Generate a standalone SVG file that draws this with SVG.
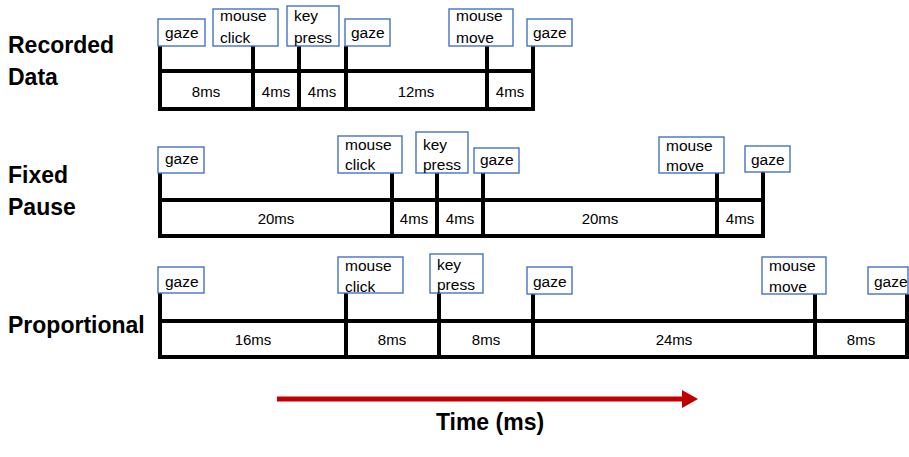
<svg xmlns="http://www.w3.org/2000/svg" width="909" height="457" viewBox="0 0 909 457">
<style>
.ev{fill:#fff;stroke:#4472C4;stroke-width:1.4}
.t{font-family:"Liberation Sans",Arial,sans-serif;font-size:15.5px;fill:#000}
.d{font-family:"Liberation Sans",Arial,sans-serif;font-size:15px;fill:#000;text-anchor:middle}
.h{font-family:"Liberation Sans",Arial,sans-serif;font-size:23px;font-weight:bold;fill:#000}
.c{text-anchor:middle}
.ln{stroke:#000;stroke-width:4;fill:none}
</style>
<defs>
<marker id="ah" markerWidth="16" markerHeight="18" refX="1" refY="9" orient="auto" markerUnits="userSpaceOnUse">
<path d="M0,0 L16,9 L0,18 Z" fill="#C00000"/>
</marker>
</defs>
<rect width="909" height="457" fill="#fff"/>
<g id="labels">
<text class="h" x="8" y="53">Recorded</text>
<text class="h" x="8" y="85">Data</text>
<text class="h" x="8" y="183">Fixed</text>
<text class="h" x="8" y="215">Pause</text>
<text class="h" x="8" y="333">Proportional</text>
<text class="h c" x="490" y="430">Time (ms)</text>
</g>
<g id="connectors">
<rect class="ln" x="160" y="71" width="373" height="38"/>
<path class="ln" d="M160,46V109 M253,46V109 M299,46V109 M346,46V109 M487,46V109 M533,46V109"/>
<rect class="ln" x="160" y="200" width="603" height="36"/>
<path class="ln" d="M160,173V236 M392,173V236 M437,173V236 M483,173V236 M717,173V236 M763,172V236"/>
<rect class="ln" x="160" y="321" width="748" height="36"/>
<path class="ln" d="M160,293V357 M346,293V357 M439,293V357 M533,294V357 M815,294V357 M907,294V357"/>
<line x1="277" y1="399" x2="683" y2="399" stroke="#C00000" stroke-width="5" marker-end="url(#ah)"/>
</g>
<g id="durations">
<text class="d" x="206" y="97">8ms</text>
<text class="d" x="276" y="97">4ms</text>
<text class="d" x="322" y="97">4ms</text>
<text class="d" x="416" y="97">12ms</text>
<text class="d" x="510" y="97">4ms</text>
<text class="d" x="276" y="224">20ms</text>
<text class="d" x="414" y="224">4ms</text>
<text class="d" x="460" y="224">4ms</text>
<text class="d" x="600" y="224">20ms</text>
<text class="d" x="740" y="224">4ms</text>
<text class="d" x="253" y="345">16ms</text>
<text class="d" x="392" y="345">8ms</text>
<text class="d" x="486" y="345">8ms</text>
<text class="d" x="674" y="345">24ms</text>
<text class="d" x="861" y="345">8ms</text>
</g>
<g id="r1-gaze1"><rect class="ev" x="158" y="19" width="47" height="27"/><text class="t" x="165" y="38">gaze</text></g>
<g id="r1-click"><rect class="ev" x="213" y="9" width="65" height="37"/><text class="t" x="220" y="21">mouse</text><text class="t" x="220" y="43">click</text></g>
<g id="r1-key"><rect class="ev" x="287" y="6" width="52" height="40"/><text class="t" x="294" y="21">key</text><text class="t" x="294" y="43">press</text></g>
<g id="r1-gaze2"><rect class="ev" x="345" y="19" width="45" height="27"/><text class="t" x="351" y="38">gaze</text></g>
<g id="r1-move"><rect class="ev" x="449" y="9" width="64" height="37"/><text class="t" x="456" y="21">mouse</text><text class="t" x="456" y="43">move</text></g>
<g id="r1-gaze3"><rect class="ev" x="527" y="19" width="45" height="27"/><text class="t" x="533" y="38">gaze</text></g>
<g id="r2-gaze1"><rect class="ev" x="158" y="147" width="46" height="26"/><text class="t" x="165" y="164">gaze</text></g>
<g id="r2-click"><rect class="ev" x="338" y="136" width="64" height="37"/><text class="t" x="345" y="150">mouse</text><text class="t" x="345" y="170">click</text></g>
<g id="r2-key"><rect class="ev" x="416" y="132" width="52" height="41"/><text class="t" x="423" y="150">key</text><text class="t" x="423" y="170">press</text></g>
<g id="r2-gaze2"><rect class="ev" x="474" y="148" width="45" height="25"/><text class="t" x="480" y="165">gaze</text></g>
<g id="r2-move"><rect class="ev" x="659" y="137" width="65" height="36"/><text class="t" x="666" y="151">mouse</text><text class="t" x="666" y="171">move</text></g>
<g id="r2-gaze3"><rect class="ev" x="745" y="146" width="45" height="26"/><text class="t" x="751" y="165">gaze</text></g>
<g id="r3-gaze1"><rect class="ev" x="158" y="267" width="46" height="26"/><text class="t" x="165" y="287">gaze</text></g>
<g id="r3-click"><rect class="ev" x="338" y="257" width="65" height="36"/><text class="t" x="345" y="271">mouse</text><text class="t" x="345" y="292">click</text></g>
<g id="r3-key"><rect class="ev" x="430" y="254" width="53" height="39"/><text class="t" x="437" y="270">key</text><text class="t" x="437" y="290">press</text></g>
<g id="r3-gaze2"><rect class="ev" x="527" y="267" width="45" height="27"/><text class="t" x="533" y="287">gaze</text></g>
<g id="r3-move"><rect class="ev" x="762" y="257" width="64" height="37"/><text class="t" x="769" y="271">mouse</text><text class="t" x="769" y="292">move</text></g>
<g id="r3-gaze3"><rect class="ev" x="868" y="267" width="40" height="27"/><text class="t" x="874" y="287">gaze</text></g>
</svg>
